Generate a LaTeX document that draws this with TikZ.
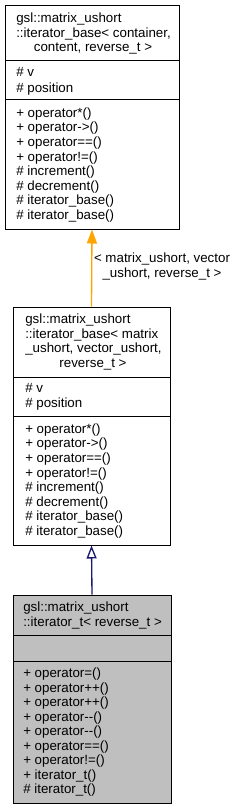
\documentclass[tikz,border=0pt]{standalone}
\usepackage{fontspec}
\setmainfont{Liberation Sans}
\usetikzlibrary{
  arrows.meta, % Triangle 箭头
  calc         % 坐标计算
}
\definecolor{dxorange}{RGB}{255,165,0}
\definecolor{dxnavy}{RGB}{25,25,112}
\definecolor{dxgray}{RGB}{191,191,191}

\tikzset{
  classbox/.style={draw=black, line width=0.75pt, inner sep=0pt},
  member/.style={anchor=base west, inner sep=0pt, font=\fontsize{10}{12}\selectfont},
  titlemid/.style={anchor=base, inner sep=0pt, font=\fontsize{10}{12}\selectfont},
  edgelabel/.style={align=center, inner sep=0pt, font=\fontsize{10}{10.9}\selectfont},
  tplarrow/.style={draw=dxorange, fill=dxorange, line width=1pt, -{Triangle[length=10.5pt, width=7.5pt]}},
  inharrow/.style={draw=dxnavy, line width=1pt, -{Triangle[open, length=9.75pt, width=7.5pt, fill=white]}}
}

\begin{document}
\begin{tikzpicture}[x=0.75pt, y=-0.75pt] % 以像素为单位，y 轴向下
  \useasboundingbox (0,0) rectangle (237,809);

  % 第一个类：iterator_base< container, content, reverse_t >
  \node[classbox, minimum width=130.5pt, minimum height=167.25pt] (base) at (92,117.5) {};
  \draw[line width=0.75pt] (5,61) -- (179,61);
  \draw[line width=0.75pt] (5,100) -- (179,100);
  \node[member] (base-t0) at (16,22.5) {gsl::matrix\_ushort};
  \node[member] (base-t1) at (16,37.6) {::iterator\_base< container,};
  \node[titlemid] (base-t2) at (93,52) {content, reverse\_t >};
  \foreach \a [count=\i from 0] in {\# v, \# position}
    \node[member] (base-a\i) at (16,77+15.3*\i) {\a};
  \foreach \m [count=\i from 0] in {+ operator*(), + operator->(), + operator==(), + operator!=(),
      \# increment(), \# decrement(), \# iterator\_base(), \# iterator\_base()}
    \node[member] (base-m\i) at (16,117.3+14.57*\i) {\m};

  % 第二个类：iterator_base< matrix_ushort, vector_ushort, reverse_t >
  \node[classbox, minimum width=117.75pt, minimum height=178.5pt] (inst) at (91.5,426) {};
  \draw[line width=0.75pt] (13,377) -- (170,377);
  \draw[line width=0.75pt] (13,416) -- (170,416);
  \foreach \t [count=\i from 0] in {gsl::matrix\_ushort, ::iterator\_base< matrix, {\_ushort, vector\_ushort,}}
    \node[member] (inst-t\i) at (25,323.7+14.6*\i) {\t};
  \node[titlemid] (inst-t3) at (93,367.7) {reverse\_t >};
  \foreach \a [count=\i from 0] in {\# v, \# position}
    \node[member] (inst-a\i) at (25,392.3+15.4*\i) {\a};
  \foreach \m [count=\i from 0] in {+ operator*(), + operator->(), + operator==(), + operator!=(),
      \# increment(), \# decrement(), \# iterator\_base(), \# iterator\_base()}
    \node[member] (inst-m\i) at (25,433.3+14.57*\i) {\m};

  % 第三个类：iterator_t< reverse_t >（灰底）
  \node[classbox, fill=dxgray, minimum width=118.5pt, minimum height=156pt] (iter) at (92,699) {};
  \draw[line width=0.75pt] (13,635) -- (171,635);
  \draw[line width=0.75pt] (13,661) -- (171,661);
  \node[member] (iter-t0) at (23,611.7) {gsl::matrix\_ushort};
  \node[member] (iter-t1) at (23,626.7) {::iterator\_t< reverse\_t >};
  \foreach \m [count=\i from 0] in {+ operator=(), + operator++(), + operator++(), + operator-{}-(),
      + operator-{}-(), + operator==(), + operator!=(), + iterator\_t(), \# iterator\_t()}
    \node[member] (iter-m\i) at (23,677.7+14.5*\i) {\m};

  % 连线
  \draw[tplarrow] (inst.north) -- (base.south);
  \node[edgelabel] (tpl-label) at (162,266.5) {< matrix\_ushort, vector\\\_ushort, reverse\_t >};
  \draw[inharrow] (iter.north) -- (inst.south);
\end{tikzpicture}
\end{document}
